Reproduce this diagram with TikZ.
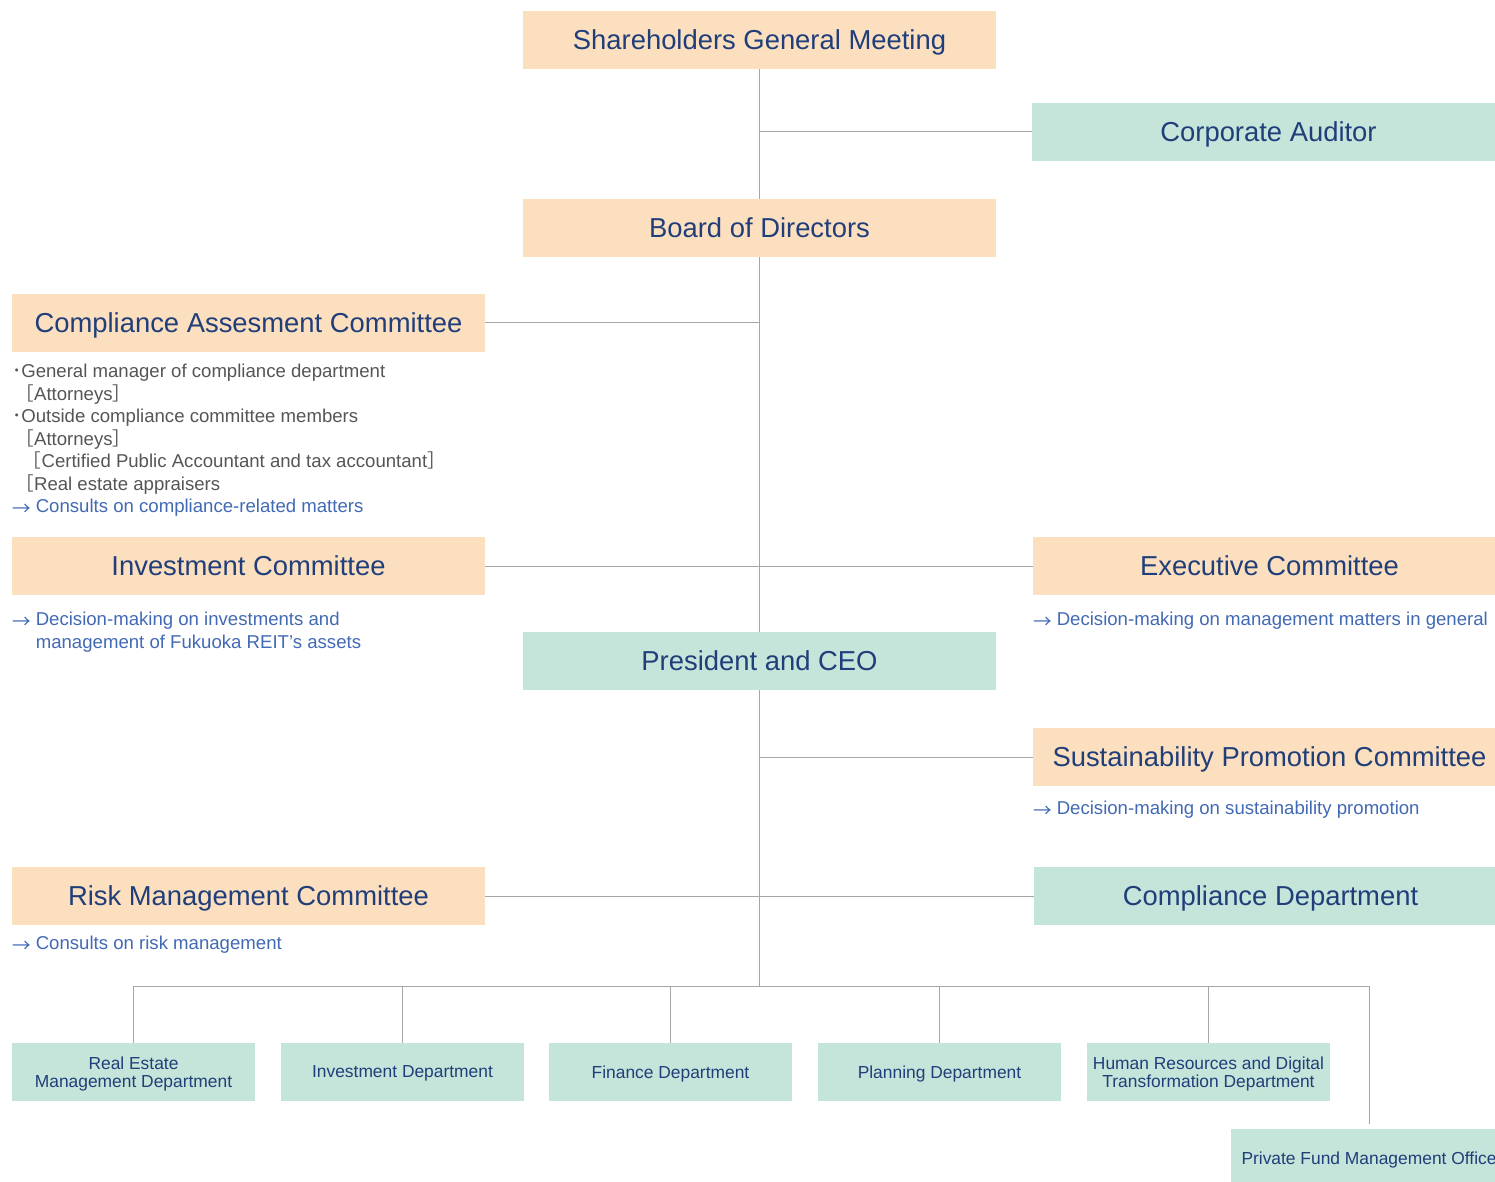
\documentclass[tikz,border=0pt]{standalone}
\usepackage{fontspec}
\setmainfont{Liberation Sans}
\newfontfamily\cjk{Noto Sans CJK JP}
\usetikzlibrary{positioning}

\definecolor{peach}{HTML}{FCDFBF}
\definecolor{mint}{HTML}{C5E5DA}
\definecolor{navy}{HTML}{203E79}
\definecolor{noteblue}{HTML}{4169B4}
\definecolor{memogray}{HTML}{555555}
\definecolor{linegray}{HTML}{A6A6A6}

\newcommand{\toarrow}{\raisebox{-1.3pt}{\cjk →} }

\tikzset{
  orgbox/.style={fill=#1, text=navy, inner sep=0pt, minimum height=29pt,
    text depth=0pt, font=\fontsize{13.7}{16}\selectfont},
  wide/.style={minimum width=236.5pt},
  dept/.style={fill=mint, text=navy, inner sep=0pt, minimum width=121.5pt,
    minimum height=29pt, text depth=0pt, align=center,
    font=\fontsize{8.7}{9}\selectfont},
  memo/.style={inner sep=0pt, align=left, anchor=north west,
    font=\fontsize{9.3}{11.25}\selectfont},
  link/.style={draw=linegray, line width=0.5pt}
}

\begin{document}
\begin{tikzpicture}[x=0.5pt, y=-0.5pt]
  \useasboundingbox (0,0) rectangle (1495,1182);

  % governing bodies
  \node[orgbox=peach, wide] (sgm) at (759.5,40) {Shareholders General Meeting};
  \node[orgbox=mint, wide] (audit) at (1268.5,132) {Corporate Auditor};
  \node[orgbox=peach, wide] (bod) at (759.5,228) {Board of Directors};
  \node[orgbox=peach, wide] (cac) at (248.5,323) {Compliance Assesment Committee};
  \node[orgbox=peach, wide] (invc) at (248.5,566) {Investment Committee};
  \node[orgbox=peach, wide] (exec) at (1269.5,566) {Executive Committee};
  \node[orgbox=mint, wide] (ceo) at (759.5,661) {President and CEO};
  \node[orgbox=peach, wide] (spc) at (1269.5,757) {Sustainability Promotion Committee};
  \node[orgbox=peach, wide] (rmc) at (248.5,896) {Risk Management Committee};
  \node[orgbox=mint, wide] (cdept) at (1270.5,896) {Compliance Department};

  % notes under the committees
  \node[memo, text=memogray, below=5.7pt of cac.south west, anchor=north west] (cacmemo)
    {{\cjk ･}General manager of compliance department\\
     \hspace*{1.75pt}{\cjk ［}Attorneys{\cjk ］}\\
     {\cjk ･}Outside compliance committee members\\
     \hspace*{1.75pt}{\cjk ［}Attorneys{\cjk ］}\\
     \hspace*{5.5pt}{\cjk ［}Certified Public Accountant and tax accountant{\cjk ］}\\
     \hspace*{1.75pt}{\cjk ［}Real estate appraisers\\
     \textcolor{noteblue}{\toarrow Consults on compliance-related matters}};
  \node[memo, text=noteblue, below=8.25pt of invc.south west, anchor=north west] (invmemo)
    {\toarrow Decision-making on investments and\\
     \hspace*{1.28em}management of Fukuoka REIT’s assets};
  \node[memo, text=noteblue, below=8.25pt of exec.south west, anchor=north west] (execmemo)
    {\toarrow Decision-making on management matters in general};
  \node[memo, text=noteblue, below=7.2pt of spc.south west, anchor=north west] (spcmemo)
    {\toarrow Decision-making on sustainability promotion};
  \node[memo, text=noteblue, below=5.2pt of rmc.south west, anchor=north west] (rmcmemo)
    {\toarrow Consults on risk management};

  % departments
  \foreach \x/\name/\label in {133.5/rem/{Real Estate\\Management Department},
      402.5/invd/{Investment Department}, 670.5/find/{Finance Department},
      939.5/pland/{Planning Department},
      1208.5/hrdx/{Human Resources and Digital\\Transformation Department}}
    \node[dept] (\name) at (\x,1072) {\label};
  \node[dept, minimum width=138pt] (pfmo) at (1369,1158) {Private Fund Management Office};

  \coordinate (bus) at (759.5,986);
  \coordinate (pftop) at (1369,1124);

  % connectors
  \draw[link] (sgm) -- (bod);
  \draw[link] (audit.west) -- (audit.west -| sgm.south);
  \draw[link] (bod) -- (ceo);
  \draw[link] (cac.east) -- (cac.east -| bod.south);
  \draw[link] (invc.east) -- (exec.west);
  \draw[link] (spc.west) -- (spc.west -| ceo.south);
  \draw[link] (rmc.east) -- (cdept.west);
  \draw[link] (ceo.south) -- (bus);
  \draw[link] (rem.north) |- (pftop |- bus) -- (pftop);
  \foreach \d in {invd, find, pland, hrdx}
    \draw[link] (\d.north) -- (\d.north |- bus);
\end{tikzpicture}
\end{document}
